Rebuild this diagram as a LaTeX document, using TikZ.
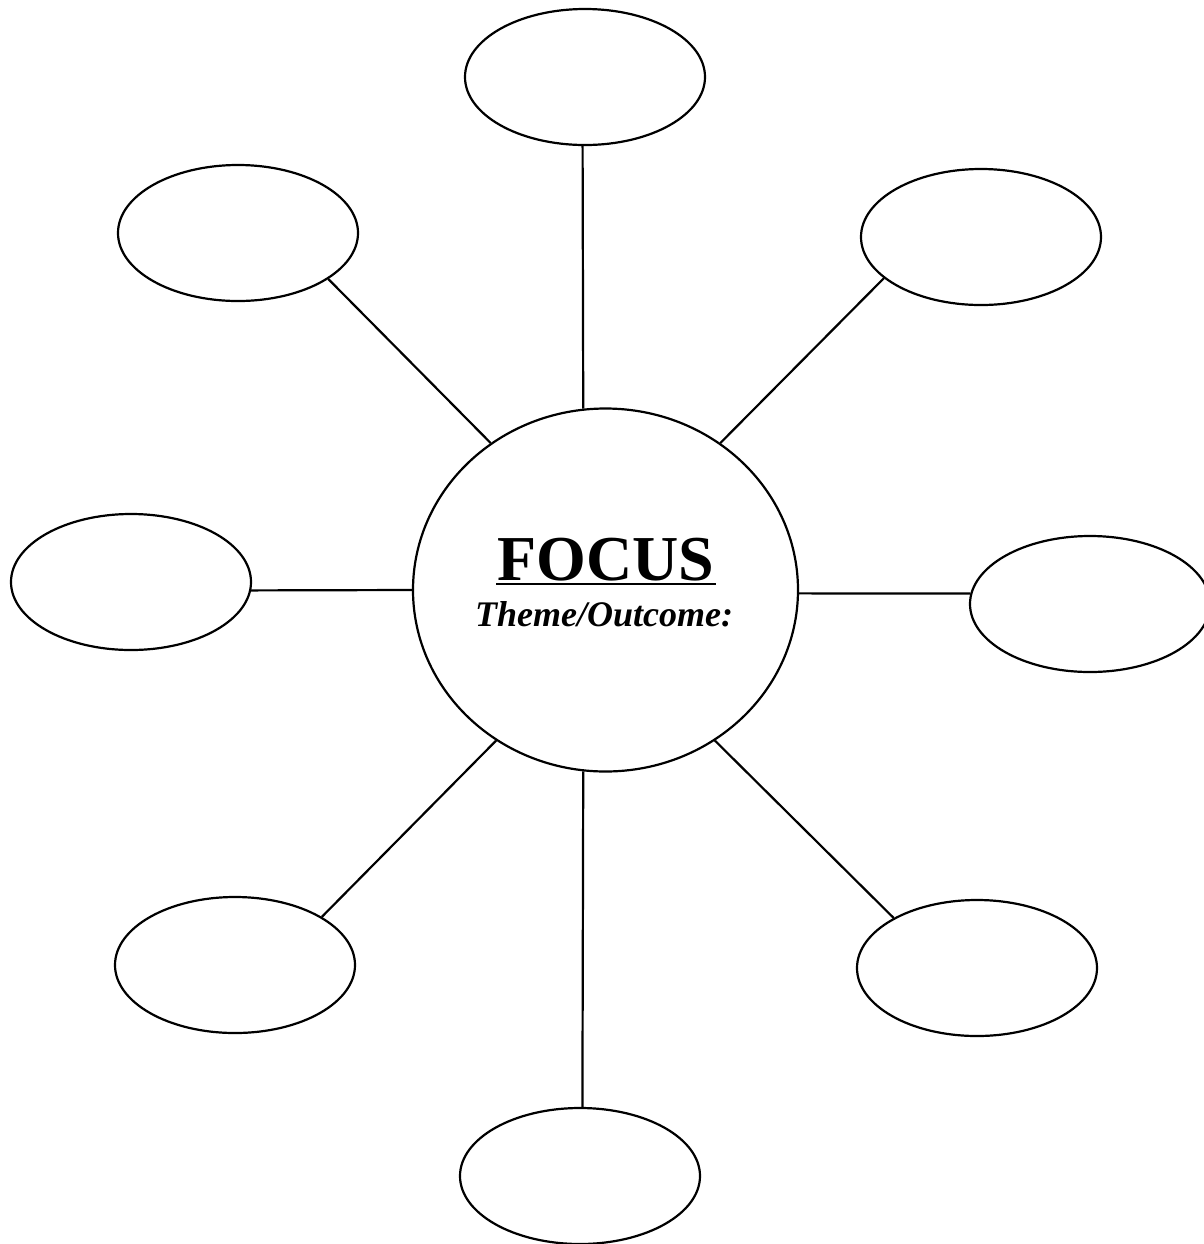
\documentclass[tikz,border=0pt]{standalone}
\usepackage{fontspec}
\setmainfont{Liberation Serif}
\usetikzlibrary{shapes.geometric}

\begin{document}
\begin{tikzpicture}[x=0.5pt, y=-0.5pt, line width=1.1pt,
    bubble/.style={ellipse, draw, inner sep=0pt, minimum width=120pt, minimum height=68pt},
    txt/.style={inner sep=0pt, anchor=base}]
    \useasboundingbox (0,0) rectangle (1204,1244);
    \node[ellipse, draw, inner sep=0pt, minimum width=192.5pt, minimum height=181.5pt] (focus) at (605.5, 590) {};
    \node[bubble] (top)      at (585, 77)   {};
    \node[bubble] (topleft)  at (238, 233)  {};
    \node[bubble] (topright) at (981, 237)  {};
    \node[bubble] (left)     at (131, 582)  {};
    \node[bubble] (right)    at (1090, 604) {};
    \node[bubble] (botleft)  at (235, 965)  {};
    \node[bubble] (botright) at (977, 968)  {};
    \node[bubble] (bottom)   at (580, 1176) {};

    \node[txt, font=\fontsize{32}{36}\selectfont\bfseries] (focustitle) at (606, 580) {FOCUS};
    \node[txt, font=\fontsize{18}{21}\selectfont\bfseries\itshape] (theme) at (604, 626) {Theme/Outcome:};
    \draw[line width=1.4pt] ([yshift=-2pt]focustitle.base west) -- ([yshift=-2pt]focustitle.base east);

    \draw (focus.97)   -- (top.-92);
    \draw (focus.128)  -- (topleft.-27);
    \draw (focus.52)   -- (topright.-157);
    \draw (focus.180)  -- (left.-4);
    \draw (focus.-1)   -- (right.175);
    \draw (focus.-126) -- (botleft.29);
    \draw (focus.-54)  -- (botright.149);
    \draw (focus.-97)  -- (bottom.88);
\end{tikzpicture}
\end{document}
